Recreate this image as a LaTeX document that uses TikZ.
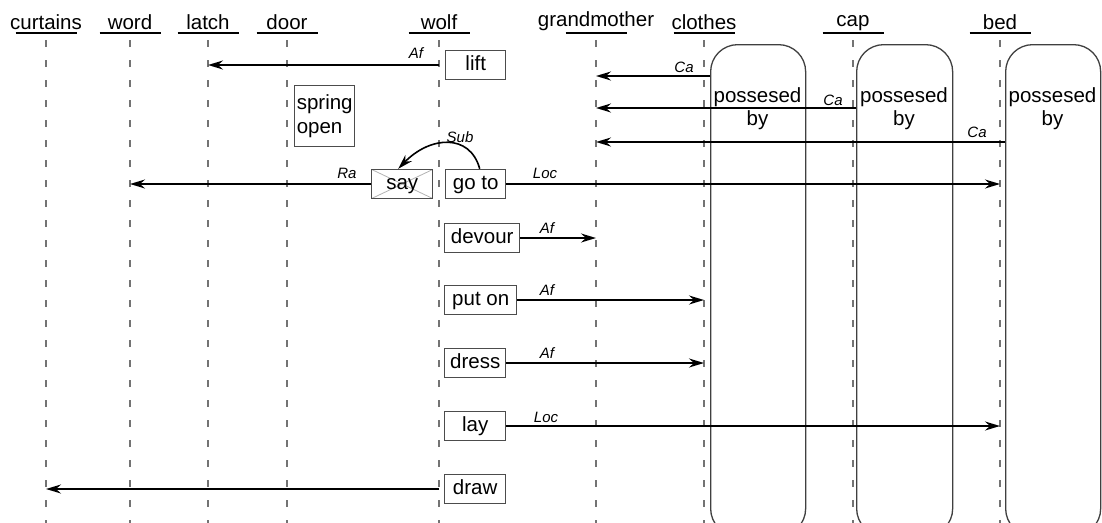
\documentclass[tikz,border=0pt]{standalone}
\usepackage{fontspec}
\setmainfont{Liberation Sans}
\usetikzlibrary{arrows.meta}
\begin{document}
\begin{tikzpicture}[x=1pt,y=-1pt,
  every node/.style={inner sep=0pt, font=\fontsize{20.5}{23}\selectfont},
  hd/.style={anchor=base},
  lbl/.style={font=\fontsize{15}{17}\selectfont\itshape},
  act/.style={draw=black!70, line width=1.4pt, anchor=west, minimum height=29pt, text height=14.5pt, text depth=4pt},
  life/.style={draw=black!55, line width=1.4pt, dash pattern=on 7pt off 13pt},
  uline/.style={line width=1.6pt},
  arr/.style={line width=1.8pt, -{Stealth[length=15pt,width=9pt,inset=5pt]}},
  poss/.style={draw=black!75, line width=1.3pt, rounded corners=27pt, anchor=north west, minimum height=491pt},
  posstext/.style={anchor=north, align=center}]
\useasboundingbox (0,0) rectangle (1102,522);
\clip (0,0) rectangle (1102,522);

% headers
\node[hd] (hcurtains) at (46,29.5) {curtains};
\node[hd] (hword) at (130,29.5) {word};
\node[hd] (hlatch) at (208,29.5) {latch};
\node[hd] (hdoor) at (287,29.5) {door};
\node[hd] (hwolf) at (439,29.5) {wolf};
\node[hd] (hgrand) at (596,26.5) {grandmother};
\node[hd] (hclothes) at (704,29.5) {clothes};
\node[hd] (hcap) at (853,26.5) {cap};
\node[hd] (hbed) at (1000,29.5) {bed};

\foreach \x in {46,130,208,287,439,596,704,853,1000}{
  \draw[uline] (\x-30.5,33) -- (\x+30.5,33);
  \draw[life] (\x,40) -- (\x,530);
}

% possessed boxes
\node[poss, minimum width=95pt] (pclothes) at (710,44) {};
\node[poss, minimum width=96pt] (pcap) at (856,44) {};
\node[poss, minimum width=95pt] (pbed) at (1005,44) {};
\node[posstext] (tclothes) at (757.5,87) {possesed\\by};
\node[posstext] (tcap) at (904,87) {possesed\\by};
\node[posstext] (tbed) at (1052.5,87) {possesed\\by};

% activity boxes
\node[act, minimum width=60pt] (lift) at (445,65) {lift};
\node[draw=black!70, line width=1.4pt, anchor=north west, minimum width=60pt, minimum height=61pt, align=left, font=\fontsize{20.5}{24}\selectfont] (spring) at (294,85) {spring\\open};
\node[act, minimum width=61pt, path picture={\draw[black!30, line width=0.8pt] (path picture bounding box.north west) -- (path picture bounding box.south east) (path picture bounding box.north east) -- (path picture bounding box.south west);}] (say) at (371,184) {say};
\node[act, minimum width=60pt] (goto) at (445,184) {go to};
\node[act, minimum width=75pt] (devour) at (444,238) {devour};
\node[act, minimum width=72pt] (puton) at (444,300) {put on};
\node[act, minimum width=61pt] (dress) at (444,363) {dress};
\node[act, minimum width=61pt] (lay) at (444,426) {lay};
\node[act, minimum width=61pt] (draw) at (444,489) {draw};

% y levels of the Ca arrows
\coordinate (yca1) at (0,76);
\coordinate (yca2) at (0,108);
\coordinate (yca3) at (0,142);

% connectors
\draw[arr] (hwolf |- lift.west) -- (hlatch |- lift.west);
\draw[arr] (pclothes.west |- yca1) -- (hgrand |- yca1);
\draw[arr] (pcap.west |- yca2) -- (hgrand |- yca2);
\draw[arr] (pbed.west |- yca3) -- (hgrand |- yca3);
\draw[arr, line width=1.6pt] ([xshift=4pt]goto.north) .. controls (470,133) and (430,136) .. ([xshift=-4pt]say.north);
\draw[arr] (say.west) -- (hword |- say.west);
\draw[arr] (goto.east) -- (hbed |- goto.east);
\draw[arr] (devour.east) -- (hgrand |- devour.east);
\draw[arr] (puton.east) -- (hclothes |- puton.east);
\draw[arr] (dress.east) -- (hclothes |- dress.east);
\draw[arr] (lay.east) -- (hbed |- lay.east);
\draw[arr] (hwolf |- draw.west) -- (hcurtains |- draw.west);

% labels
\node[lbl] (l1) at (416,53) {Af};
\node[lbl] (l2) at (684,67) {Ca};
\node[lbl] (l3) at (833,100) {Ca};
\node[lbl] (l4) at (977,132) {Ca};
\node[lbl] (l5) at (460,137) {Sub};
\node[lbl] (l6) at (347,173) {Ra};
\node[lbl] (l7) at (545,173) {Loc};
\node[lbl] (l8) at (547,228) {Af};
\node[lbl] (l9) at (547,290) {Af};
\node[lbl] (l10) at (547,353) {Af};
\node[lbl] (l11) at (546,417) {Loc};
\end{tikzpicture}
\end{document}
